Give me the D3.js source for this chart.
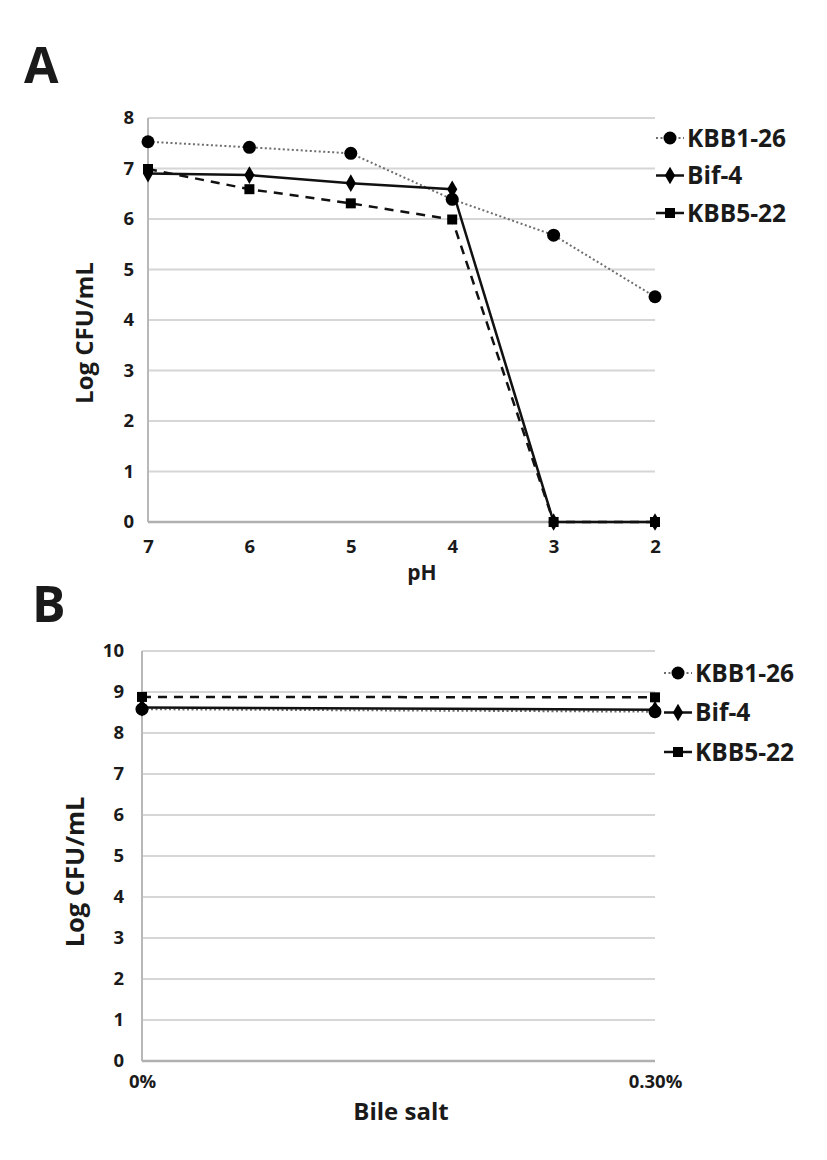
<!DOCTYPE html>
<html><head><meta charset="utf-8">
<script src="https://cdn.jsdelivr.net/npm/d3@7"></script>
<style>body{margin:0;background:#fff}svg{display:block}text{font-family:"Open Sans",sans-serif;font-weight:700;fill:#1a1a1a}</style>
</head><body><svg id="c" width="827" height="1160"></svg>
<script>
// ---- Data ----
const seriesNames = ["KBB1-26", "Bif-4", "KBB5-22"];
const phCategories = ["7", "6", "5", "4", "3", "2"];
const phKBB1_26 = [7.53, 7.42, 7.30, 6.39, 5.68, 4.46];
const phBif4 = [6.90, 6.87, 6.71, 6.59, 0, 0];
const phKBB5_22 = [6.99, 6.59, 6.31, 5.99, 0, 0];
const phYTicks = [0, 1, 2, 3, 4, 5, 6, 7, 8];

const bileCategories = ["0%", "0.30%"];
const bileKBB1_26 = [8.58, 8.52];
const bileBif4 = [8.62, 8.57];
const bileKBB5_22 = [8.88, 8.87];
const bileYTicks = [0, 1, 2, 3, 4, 5, 6, 7, 8, 9, 10];

const styles = {
  "KBB1-26": {stroke: "#6e6e6e", width: 2, dash: "2,2.5", legDash: "2,2.5", marker: "circle"},
  "Bif-4": {stroke: "#111", width: 2.5, dash: null, legDash: null, marker: "diamond"},
  "KBB5-22": {stroke: "#111", width: 2.5, dash: "9,7", legDash: null, marker: "square"}
};

const svg = d3.select("#c");

function drawMarker(g, type, x, y) {
  if (type === "circle") g.append("circle").attr("cx", x).attr("cy", y).attr("r", 6.5).attr("fill", "#000");
  else if (type === "diamond") g.append("path").attr("d", d3.symbol(d3.symbolDiamond, 90)()).attr("transform", `translate(${x},${y})`).attr("fill", "#000");
  else g.append("rect").attr("x", x - 5).attr("y", y - 5).attr("width", 10).attr("height", 10).attr("fill", "#000");
}

function chart(opt) {
  const g = svg.append("g");
  const x = d3.scalePoint().domain(opt.cats).range([opt.x0, opt.x1]);
  const y = d3.scaleLinear().domain([0, opt.ymax]).range([opt.y0, opt.y1]);
  g.selectAll("line.grid").data(opt.yticks.filter(t => t > 0)).join("line")
    .attr("x1", opt.x0).attr("x2", opt.x1).attr("y1", d => y(d)).attr("y2", d => y(d))
    .attr("stroke", "#d6d6d6").attr("stroke-width", 2);
  g.append("line").attr("x1", opt.x0).attr("x2", opt.x0).attr("y1", y(0)).attr("y2", y(opt.ymax)).attr("stroke", "#b8b8b8").attr("stroke-width", 2);
  g.append("line").attr("x1", opt.x0).attr("x2", opt.x1).attr("y1", y(0)).attr("y2", y(0)).attr("stroke", "#b0b0b0").attr("stroke-width", 2.5);
  const ya = d3.axisLeft(y).tickValues(opt.yticks).tickSize(0).tickPadding(opt.ypad);
  const yg = g.append("g").attr("transform", `translate(${opt.x0},0)`).call(ya);
  yg.select(".domain").remove();
  yg.selectAll("text").attr("font-size", 18.5).attr("fill", "#222").style("font-family", '"Open Sans",sans-serif').style("font-weight", 700);
  const xa = d3.axisBottom(x).tickSize(0).tickPadding(opt.xpad);
  const xg = g.append("g").attr("transform", `translate(0,${y(0)})`).call(xa);
  xg.select(".domain").remove();
  xg.selectAll("text").attr("font-size", 18.5).attr("fill", "#222").style("font-family", '"Open Sans",sans-serif').style("font-weight", 700);
  opt.series.forEach(s => {
    const st = styles[s.name];
    const line = d3.line().x((d, i) => x(opt.cats[i])).y(d => y(d));
    g.append("path").attr("d", line(s.values)).attr("fill", "none").attr("stroke", st.stroke)
      .attr("stroke-width", st.width).attr("stroke-dasharray", st.dash);
  });
  opt.series.forEach(s => {
    const st = styles[s.name];
    s.values.forEach((v, i) => drawMarker(g, st.marker, x(opt.cats[i]), y(v)));
  });
  opt.series.forEach((s, i) => {
    const st = styles[s.name];
    const ly = opt.legY + i * opt.legStep;
    g.append("line").attr("x1", opt.legX - 14).attr("x2", opt.legX + 14).attr("y1", ly).attr("y2", ly)
      .attr("stroke", st.stroke).attr("stroke-width", st.width).attr("stroke-dasharray", st.legDash);
    drawMarker(g, st.marker, opt.legX, ly);
    g.append("text").attr("x", opt.legX + 17).attr("y", ly).attr("dy", "0.35em").attr("font-size", 24.5).text(s.name);
  });
  g.append("text").attr("transform", `translate(${opt.ytX},${opt.ytY}) rotate(-90)`).attr("text-anchor", "middle")
    .attr("dy", "0.35em").attr("font-size", opt.ytSize).text("Log CFU/mL");
  g.append("text").attr("x", opt.xtX).attr("y", opt.xtY).attr("text-anchor", "middle").attr("dy", "0.35em")
    .attr("font-size", opt.xtSize).text(opt.xtitle);
  g.append("text").attr("x", opt.panelX).attr("y", opt.panelY).attr("font-size", 50).text(opt.panel);
}

chart({
  cats: phCategories, ymax: 8, yticks: phYTicks,
  x0: 148, x1: 655, y0: 522, y1: 118, ypad: 14, xpad: 18,
  series: [{name: "KBB1-26", values: phKBB1_26}, {name: "Bif-4", values: phBif4}, {name: "KBB5-22", values: phKBB5_22}],
  legX: 670, legY: 138, legStep: 37.5,
  ytX: 85, ytY: 333, ytSize: 24, xtX: 422, xtY: 573, xtSize: 21, xtitle: "pH",
  panel: "A", panelX: 24, panelY: 83
});

chart({
  cats: bileCategories, ymax: 10, yticks: bileYTicks,
  x0: 142, x1: 655, y0: 1061, y1: 651, ypad: 18, xpad: 14,
  series: [{name: "KBB1-26", values: bileKBB1_26}, {name: "Bif-4", values: bileBif4}, {name: "KBB5-22", values: bileKBB5_22}],
  legX: 678, legY: 673, legStep: 39.5,
  ytX: 75, ytY: 872, ytSize: 25.5, xtX: 401, xtY: 1112, xtSize: 24, xtitle: "Bile salt",
  panel: "B", panelX: 32, panelY: 622
});
</script></body></html>
